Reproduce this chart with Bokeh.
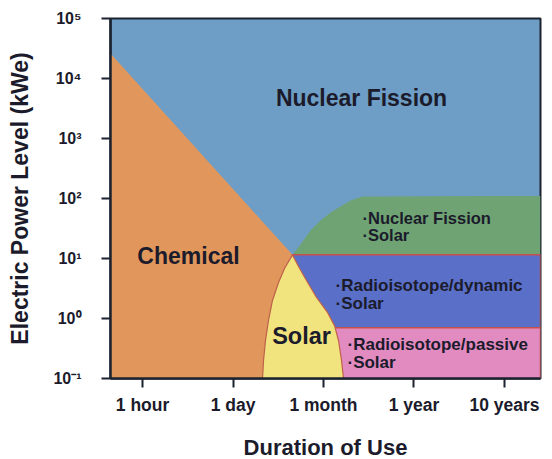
from bokeh.plotting import figure
from bokeh.models import Label, FixedTicker
from bokeh.embed import file_html
from bokeh.resources import INLINE

# ---- data ----
x_ticks = [1, 2, 3, 4, 5]
x_tick_labels = ["1 hour", "1 day", "1 month", "1 year", "10 years"]
y_ticks = [0.1, 1.0, 10.0, 100.0, 1000.0, 10000.0, 100000.0]
y_tick_labels = ["10\u207b\u00b9", "10\u2070", "10\u00b9", "10\u00b2", "10\u00b3", "10\u2074", "10\u2075"]

x_min, x_max = 0.646, 5.398
y_min, y_max = 0.1, 1e5

chem_x = [0.646, 2.657, 2.569, 2.503, 2.436, 2.392, 2.359, 2.337, 2.326, 0.646]
chem_y = [2.6e4, 11.5, 6.8, 3.98, 2.0, 0.93, 0.43, 0.2, 0.1, 0.1]

green_x = [2.657, 2.746, 2.856, 2.967, 3.077, 3.188, 3.298, 3.431, 5.398, 5.398]
green_y = [11.5, 17.1, 29.3, 43.0, 58.5, 73.6, 92.6, 108.0, 110.0, 11.5]

solar_x = [2.326, 2.337, 2.359, 2.392, 2.436, 2.503, 2.569, 2.657,
           2.724, 2.812, 2.923, 3.044, 3.122, 3.166, 3.199, 3.221]
solar_y = [0.1, 0.2, 0.43, 0.93, 2.0, 3.98, 6.8, 11.5,
           7.36, 4.3, 2.24, 1.26, 0.76, 0.43, 0.2, 0.1]

dyn_left, dyn_right, dyn_bottom, dyn_top = 2.657, 5.398, 0.7, 11.5
pas_left, pas_right, pas_bottom, pas_top = 2.657, 5.398, 0.1, 0.7

FONT = "Liberation Sans"
TXT = "#1b1b2b"

p = figure(frame_width=430, frame_height=360,
           min_border_left=110, min_border_right=12, min_border_top=18, min_border_bottom=81,
           x_range=(x_min, x_max), y_range=(y_min, y_max), y_axis_type="log",
           output_backend="svg", toolbar_location=None)
p.background_fill_color = "#6e9ec6"
p.border_fill_color = "white"
p.outline_line_color = "#1c2330"
p.outline_line_width = 2
p.grid.visible = False

p.patch(chem_x, chem_y, fill_color="#e1965c", line_color=None)
p.patch(green_x, green_y, fill_color="#6fa374", line_color=None)
p.quad(left=[dyn_left], right=[dyn_right], bottom=[dyn_bottom], top=[dyn_top],
       fill_color="#5a6fc8", line_color="#c8504a", line_width=1.5)
p.quad(left=[pas_left], right=[pas_right], bottom=[pas_bottom], top=[pas_top],
       fill_color="#e28bc0", line_color="#c8504a", line_width=1.5)
p.patch(solar_x, solar_y, fill_color="#f1e47f", line_color="#c0604a", line_width=1.2)

def lab(x, y, t, size, align="center"):
    p.add_layout(Label(x=x, y=y, text=t, text_font=FONT, text_font_style="bold",
                       text_font_size=size, text_color=TXT, text_align=align,
                       text_baseline="middle"))

lab(3.42, 4820, "Nuclear Fission", "23px")
lab(1.508, 11.2, "Chemical", "23px")
lab(2.757, 0.52, "Solar", "23.5px")
lab(3.431, 48.2, "\u00b7Nuclear Fission", "16.5px", "left")
lab(3.431, 24.2, "\u00b7Solar", "16.5px", "left")
lab(3.133, 3.55, "\u00b7Radioisotope/dynamic", "17px", "left")
lab(3.133, 1.78, "\u00b7Solar", "17px", "left")
lab(3.265, 0.369, "\u00b7Radioisotope/passive", "17px", "left")
lab(3.265, 0.185, "\u00b7Solar", "17px", "left")

for ax in (p.xaxis[0], p.yaxis[0]):
    ax.axis_line_color = "#1c2330"
    ax.axis_line_width = 2.5
    ax.major_tick_line_color = "#1c2330"
    ax.major_tick_line_width = 2
    ax.major_tick_in = 0
    ax.major_tick_out = 9
    ax.minor_tick_line_color = None
    ax.major_label_text_font = FONT
    ax.major_label_text_font_style = "bold"
    ax.major_label_text_color = TXT
    ax.axis_label_text_font = FONT
    ax.axis_label_text_font_style = "bold"
    ax.axis_label_text_color = TXT

p.xaxis.ticker = FixedTicker(ticks=x_ticks)
p.xaxis.major_label_overrides = dict(zip(x_ticks, x_tick_labels))
p.xaxis.major_label_text_font_size = "17.5px"
p.xaxis.major_label_standoff = 7
p.xaxis.axis_label = "Duration of Use"
p.xaxis.axis_label_text_font_size = "22px"
p.xaxis.axis_label_standoff = 17

p.yaxis.ticker = FixedTicker(ticks=y_ticks)
p.yaxis.major_label_overrides = dict(zip(y_ticks, y_tick_labels))
p.yaxis.major_label_text_font_size = "16px"
p.yaxis.major_label_standoff = 20
p.yaxis.axis_label = "Electric Power Level (kWe)"
p.yaxis.axis_label_text_font_size = "23px"
p.yaxis.axis_label_standoff = 17

open("out.html", "w").write(file_html(p, INLINE))
